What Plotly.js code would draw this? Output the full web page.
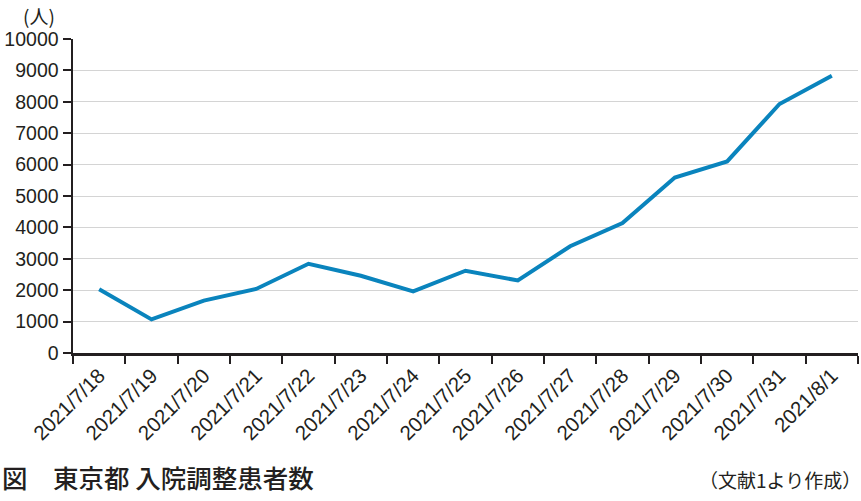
<!DOCTYPE html>
<html>
<head>
<meta charset="utf-8">
<script src="https://cdn.plot.ly/plotly-3.0.1.min.js"></script>
<style>html,body{margin:0;padding:0;background:#fff;}#chart{width:861px;height:501px;}</style>
</head>
<body>
<div id="chart"></div>
<script>
const dates = ["2021/7/18","2021/7/19","2021/7/20","2021/7/21","2021/7/22","2021/7/23","2021/7/24","2021/7/25","2021/7/26","2021/7/27","2021/7/28","2021/7/29","2021/7/30","2021/7/31","2021/8/1"];
const patients = [2030, 1070, 1670, 2040, 2840, 2460, 1960, 2620, 2310, 3400, 4140, 5590, 6100, 7930, 8830];
const yTicks = [0,1000,2000,3000,4000,5000,6000,7000,8000,9000,10000];
const gridTicks = [1000,2000,3000,4000,5000,6000,7000,8000,9000];
const unitLabel = "(人)";
const captionLeft = "図　東京都 入院調整患者数";
const captionRight = "（文献1より作成）";

const ink = "#231f20";
const font = "'Liberation Sans', Arial, sans-serif";
const cjk = "'Noto Sans CJK JP', 'Noto Sans', sans-serif";

const traces = [
  {x: dates, y: gridTicks.map(()=>null), yaxis: "y2", type: "scatter", mode: "lines", showlegend: false, hoverinfo: "skip"},
  {x: dates, y: patients, type: "scatter", mode: "lines",
   line: {color: "#0a84bd", width: 4}, showlegend: false}
];

const layout = {
  width: 861, height: 501,
  margin: {l: 73, r: 3, t: 39, b: 147.5},
  paper_bgcolor: "#fff", plot_bgcolor: "#fff",
  font: {family: font, color: ink, size: 19},
  xaxis: {
    type: "category", range: [-0.5, 14.5],
    tickson: "boundaries", ticks: "outside", ticklen: 8, tickwidth: 2, tickcolor: ink,
    showline: true, linecolor: ink, linewidth: 2.5,
    showgrid: false, zeroline: false,
    tickangle: -45, tickfont: {family: font, size: 20.5, color: ink}
  },
  yaxis: {
    range: [0, 10000], tickvals: yTicks, ticktext: yTicks.map(String),
    ticks: "outside", ticklen: 8, tickwidth: 2, tickcolor: ink,
    showline: true, linecolor: ink, linewidth: 2.5,
    showgrid: false, zeroline: false,
    tickfont: {family: font, size: 19.5, color: ink}
  },
  yaxis2: {
    overlaying: "y", range: [0, 10000], tickvals: gridTicks,
    showticklabels: false, ticks: "", showline: false, zeroline: false,
    showgrid: true, gridcolor: "#d4d4d4", gridwidth: 1
  },
  annotations: [
    {text: unitLabel, xref: "paper", yref: "paper", x: (39 - 73) / 785, y: (353.5 - 15) / 314.5,
     xanchor: "center", yanchor: "middle", showarrow: false, font: {family: cjk, size: 19, color: ink}},
    {text: captionLeft, xref: "paper", yref: "paper", x: (0 - 73) / 785, y: (353.5 - 477) / 314.5,
     xanchor: "left", yanchor: "middle", showarrow: false, font: {family: cjk, size: 25.5, color: ink, weight: 500}},
    {text: captionRight, xref: "paper", yref: "paper", x: (863 - 73) / 785, y: (353.5 - 480) / 314.5,
     xanchor: "right", yanchor: "middle", showarrow: false, font: {family: cjk, size: 19, color: ink}}
  ]
};

Plotly.newPlot("chart", traces, layout, {displayModeBar: false, staticPlot: true});
</script>
</body>
</html>
